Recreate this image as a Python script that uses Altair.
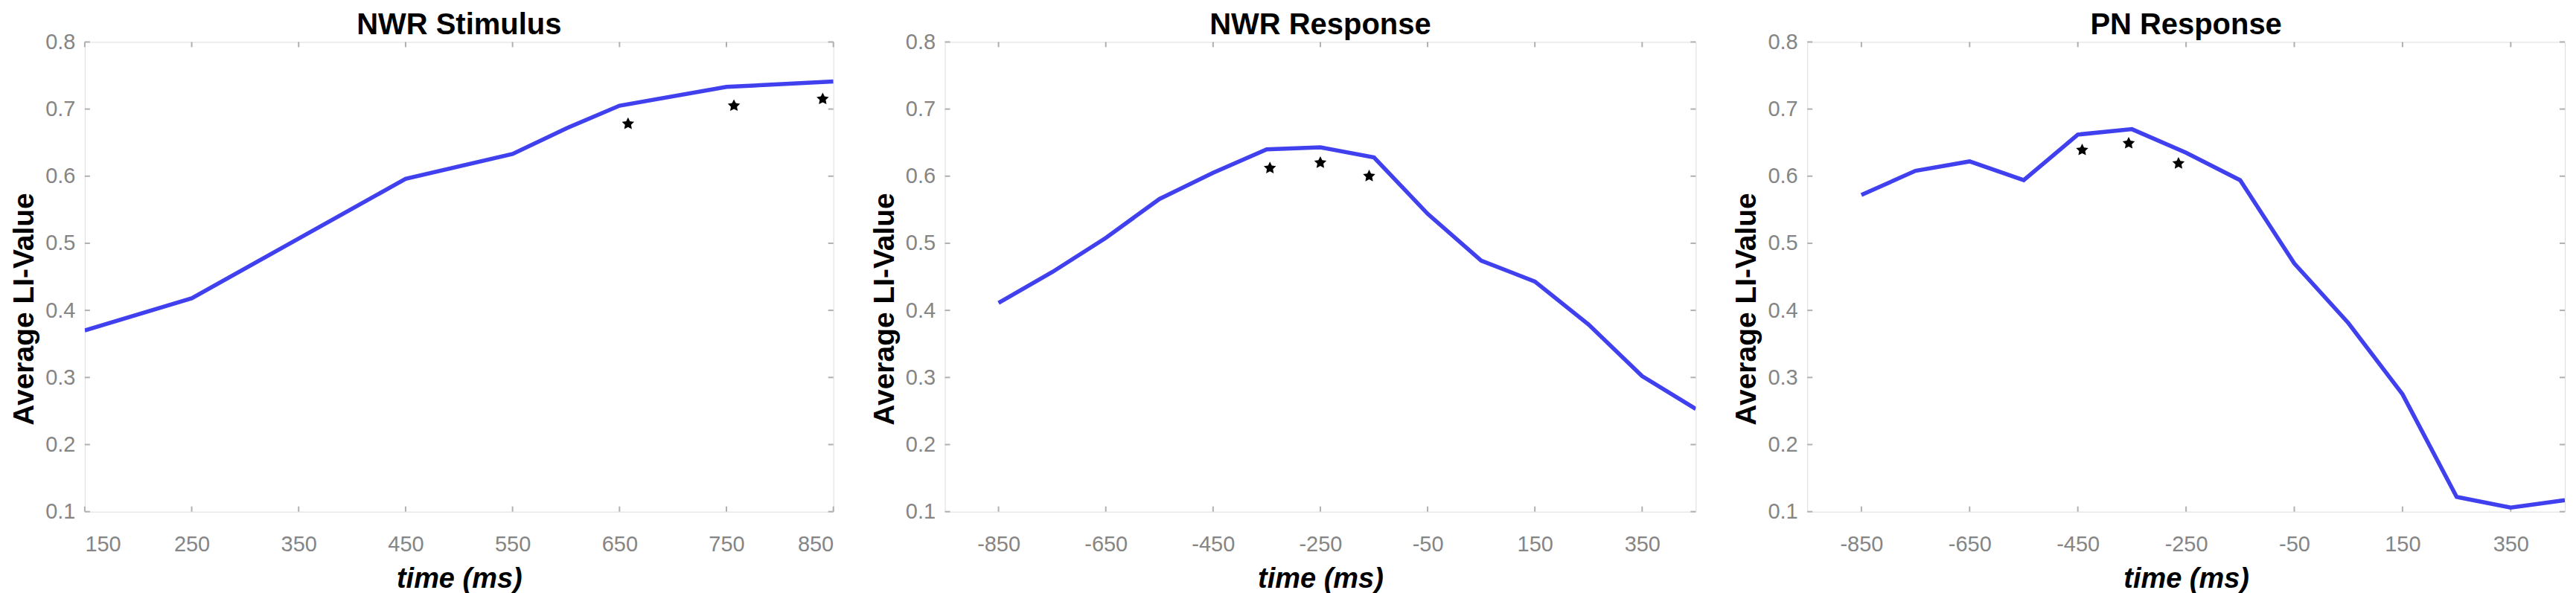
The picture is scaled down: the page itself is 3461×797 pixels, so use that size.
import altair as alt
import pandas as pd

# ---- data ----
t1 = [150, 250, 350, 450, 550, 600, 650, 750, 850]
v1 = [0.370, 0.418, 0.507, 0.596, 0.633, 0.671, 0.705, 0.733, 0.741]
s1_t = [658, 757, 840]
s1_v = [0.678, 0.705, 0.715]

t2 = [-850, -750, -650, -550, -450, -350, -250, -150, -50, 50, 150, 250, 350, 450]
v2 = [0.411, 0.457, 0.508, 0.566, 0.605, 0.640, 0.643, 0.628, 0.544, 0.474, 0.443, 0.379, 0.302, 0.253]
s2_t = [-344, -250, -159]
s2_v = [0.612, 0.620, 0.600]

t3 = [-850, -750, -650, -550, -450, -350, -250, -150, -50, 50, 150, 250, 350, 450]
v3 = [0.572, 0.608, 0.622, 0.594, 0.662, 0.670, 0.635, 0.594, 0.470, 0.381, 0.275, 0.122, 0.106, 0.117]
s3_t = [-442, -356, -264]
s3_v = [0.639, 0.649, 0.619]

titles = ["NWR Stimulus", "NWR Response", "PN Response"]
x_ticks_1 = [150, 250, 350, 450, 550, 650, 750, 850]
x_ticks_2 = [-850, -650, -450, -250, -50, 150, 350]
y_ticks = [0.1, 0.2, 0.3, 0.4, 0.5, 0.6, 0.7, 0.8]

BLUE = "#4040ee"
FRAME = "#b0b0b0"
LABEL = "#858585"
FONT = "Liberation Sans, Arial, sans-serif"
H = 632
STAR = ("M0,-1 L0.29,-0.4 L0.951,-0.309 L0.47,0.15 L0.588,0.809 L0,0.5 "
        "L-0.588,0.809 L-0.47,0.15 L-0.951,-0.309 L-0.29,-0.4 Z")


def panel(title, t, v, st, sv, domain, xt, W):
    line_df = pd.DataFrame({"t": t, "v": v})
    star_df = pd.DataFrame({"t": st, "v": sv})
    xtick_df = pd.DataFrame({"t": xt})
    ytick_df = pd.DataFrame({"v": y_ticks})
    xs = alt.Scale(domain=domain, nice=False, zero=False)
    ys = alt.Scale(domain=[0.1, 0.8], nice=False, zero=False)
    xaxis = alt.Axis(values=xt, title="time (ms)", grid=False, domain=False, ticks=False,
                     labelExpr="'' + datum.value", labelFont=FONT, labelFontSize=29,
                     labelColor=LABEL, labelPadding=30, titleFont=FONT,
                     titleFontWeight="bold", titleFontStyle="italic", titleFontSize=38,
                     titleColor="black", titlePadding=13)
    yaxis = alt.Axis(values=y_ticks, format=".1f", title="Average LI-Value", grid=False,
                     domain=False, ticks=False, labelFont=FONT, labelFontSize=29,
                     labelColor=LABEL, labelPadding=13, titleFont=FONT,
                     titleFontWeight="bold", titleFontSize=39, titleColor="black",
                     titlePadding=8, titleY=359)
    line = alt.Chart(line_df).mark_line(color=BLUE, strokeWidth=5.5, clip=True).encode(
        x=alt.X("t:Q", scale=xs, axis=xaxis),
        y=alt.Y("v:Q", scale=ys, axis=yaxis),
    )
    stars = alt.Chart(star_df).mark_point(shape=STAR, filled=True, color="black",
                                          size=300, opacity=1).encode(
        x=alt.X("t:Q"), y=alt.Y("v:Q"))
    tb = alt.Chart(xtick_df).mark_rule(color=FRAME, strokeWidth=2).encode(
        x=alt.X("t:Q"), y=alt.value(H), y2=alt.value(H - 7))
    tt = alt.Chart(xtick_df).mark_rule(color=FRAME, strokeWidth=2).encode(
        x=alt.X("t:Q"), y=alt.value(0), y2=alt.value(7))
    tl = alt.Chart(ytick_df).mark_rule(color=FRAME, strokeWidth=2).encode(
        y=alt.Y("v:Q"), x=alt.value(0), x2=alt.value(7))
    tr = alt.Chart(ytick_df).mark_rule(color=FRAME, strokeWidth=2).encode(
        y=alt.Y("v:Q"), x=alt.value(W), x2=alt.value(W - 7))
    return alt.layer(tb, tt, tl, tr, line, stars).properties(
        width=W, height=H,
        title=alt.TitleParams(title, font=FONT, fontSize=40, fontWeight="bold",
                              color="black", offset=-12),
    )


p1 = panel(titles[0], t1, v1, s1_t, s1_v, [150, 850], x_ticks_1, 1007)
p2 = panel(titles[1], t2, v2, s2_t, s2_v, [-950, 450], x_ticks_2, 1010)
p3 = panel(titles[2], t3, v3, s3_t, s3_v, [-950, 450], x_ticks_2, 1019)

chart = alt.hconcat(p1, p2, p3, spacing=150, bounds="flush").configure_view(
    stroke=FRAME, strokeWidth=3
).configure(background="white")

chart.save("out.html", embed_options={"renderer": "svg", "actions": False})
